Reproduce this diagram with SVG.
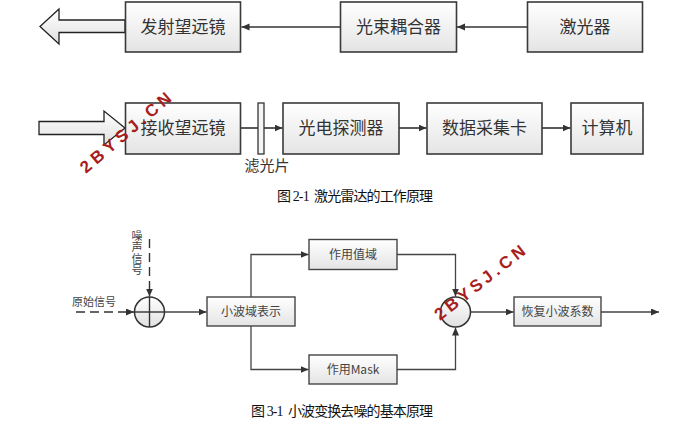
<svg xmlns="http://www.w3.org/2000/svg" width="698" height="433" viewBox="0 0 698 433">
<defs>
<linearGradient id="bg" x1="0" y1="0" x2="0" y2="1">
<stop offset="0" stop-color="#ffffff"/>
<stop offset="1" stop-color="#e4e4e4"/>
</linearGradient>
<linearGradient id="cg" x1="0" y1="0" x2="0" y2="1">
<stop offset="0" stop-color="#ffffff"/>
<stop offset="1" stop-color="#e0e0e0"/>
</linearGradient>
<marker id="ah" markerWidth="9" markerHeight="8" refX="8" refY="3.5" orient="auto" markerUnits="userSpaceOnUse">
<path d="M0,0 L8,3.5 L0,7 z" fill="#333"/>
</marker>
</defs>
<style>
.b1{fill:url(#bg);stroke:#3a3a3a;stroke-width:1.6}
.b2{fill:url(#bg);stroke:#454545;stroke-width:1.4}
.t1{font-family:"Noto Sans CJK SC","Liberation Sans",sans-serif;font-size:17px;fill:#333;text-anchor:middle}
.t2{font-family:"Noto Sans CJK SC","Liberation Serif",serif;font-size:12px;fill:#444;text-anchor:middle}
.t3{font-family:"Noto Sans CJK SC","Liberation Sans",sans-serif;font-size:11px;fill:#444;text-anchor:middle}
.cap{font-family:"Liberation Serif","Noto Sans CJK SC",serif;font-size:14px;fill:#111}
.ln{fill:none;stroke:#333;stroke-width:1.6}
.ln2{fill:none;stroke:#454545;stroke-width:1.3}
.dash{fill:none;stroke:#333;stroke-width:1.4;stroke-dasharray:9,5}
.wm{font-family:"Liberation Sans",Arial,sans-serif;font-weight:bold;font-size:17px;fill:#a81e1e}
</style>

<g id="connectors">
<polygon points="125,20 59,20 59,9 40,26.5 59,44 59,32.5 125,32.5" fill="url(#cg)" stroke="#222" stroke-width="1.3"/>
<line class="ln" x1="340" y1="27" x2="241.5" y2="27" marker-end="url(#ah)"/>
<line class="ln" x1="527" y1="27" x2="457" y2="27" marker-end="url(#ah)"/>
<polygon points="39,121.5 104,121.5 104,111 125,128 104,145 104,134.5 39,134.5" fill="url(#cg)" stroke="#222" stroke-width="1.3"/>
<line class="ln" x1="240.5" y1="128" x2="258" y2="128"/>
<line class="ln" x1="264" y1="128" x2="282.5" y2="128" marker-end="url(#ah)"/>
<line class="ln" x1="399" y1="128" x2="426.5" y2="128" marker-end="url(#ah)"/>
<line class="ln" x1="542" y1="128" x2="570.5" y2="128" marker-end="url(#ah)"/>

<line class="dash" x1="149.5" y1="239" x2="149.5" y2="296.5" marker-end="url(#ah)"/>
<line class="dash" x1="76" y1="312" x2="134" y2="312" marker-end="url(#ah)"/>
<line class="ln2" x1="164.5" y1="312" x2="206.5" y2="312" marker-end="url(#ah)"/>
<path class="ln2" d="M251,297 V254.5 H308.5" marker-end="url(#ah)"/>
<path class="ln2" d="M251,326 V369.5 H308.5" marker-end="url(#ah)"/>
<path class="ln2" d="M397,254.5 H455.5 V296.5" marker-end="url(#ah)"/>
<path class="ln2" d="M397,369.5 H455.5 V327.5" marker-end="url(#ah)"/>
<line class="ln2" x1="470.5" y1="312" x2="513.5" y2="312" marker-end="url(#ah)"/>
<line class="ln2" x1="601" y1="312" x2="659" y2="312" marker-end="url(#ah)"/>
</g>

<g id="n-fashe"><rect class="b1" x="125.5" y="2" width="115" height="50"/><text class="t1" x="183" y="33">发射望远镜</text></g>
<g id="n-guangshu"><rect class="b1" x="340.5" y="2" width="116" height="50"/><text class="t1" x="398.5" y="33">光束耦合器</text></g>
<g id="n-jiguangqi"><rect class="b1" x="527.5" y="2" width="115" height="50"/><text class="t1" x="585" y="33">激光器</text></g>

<g id="n-jieshou"><rect class="b1" x="125.5" y="103" width="115" height="51"/><text class="t1" x="183" y="134">接收望远镜</text></g>
<g id="n-filter"><rect x="258" y="103" width="6" height="51" fill="#f4f4f4" stroke="#333" stroke-width="1.3"/><text class="t1" x="267" y="171" style="font-size:15px">滤光片</text></g>
<g id="n-guangdian"><rect class="b1" x="283" y="103" width="116" height="51"/><text class="t1" x="341" y="134">光电探测器</text></g>
<g id="n-shuju"><rect class="b1" x="427" y="103" width="115" height="51"/><text class="t1" x="484.5" y="134">数据采集卡</text></g>
<g id="n-jisuanji"><rect class="b1" x="571" y="103" width="72" height="51"/><text class="t1" x="607" y="134">计算机</text></g>

<text class="cap" x="277" y="201" textLength="156" xml:space="preserve">图 2-1  激光雷达的工作原理</text>

<g id="n-noise"><text x="137" y="230" style="font-family:'Noto Sans CJK SC','Liberation Sans',sans-serif;font-size:11px;fill:#444;writing-mode:vertical-rl;letter-spacing:0.5px">噪声信号</text></g>
<g id="n-orig"><text class="t3" x="94" y="306">原始信号</text></g>
<g id="n-sum1"><circle cx="149.5" cy="312" r="15" fill="url(#cg)" stroke="#333" stroke-width="1.5"/><line x1="134.5" y1="312" x2="164.5" y2="312" stroke="#333" stroke-width="1.4"/><line x1="149.5" y1="297" x2="149.5" y2="327" stroke="#333" stroke-width="1.4"/></g>
<g id="n-xiaobo"><rect class="b2" x="207" y="297" width="88" height="29"/><text class="t2" x="251" y="316">小波域表示</text></g>
<g id="n-zhiyu"><rect class="b2" x="309" y="239.5" width="88" height="30"/><text class="t2" x="353" y="259">作用值域</text></g>
<g id="n-mask"><rect class="b2" x="309" y="355" width="88" height="29"/><text class="t2" x="353" y="374">作用Mask</text></g>
<g id="n-sum2"><circle cx="455.5" cy="312" r="15" fill="url(#cg)" stroke="#333" stroke-width="1.5"/></g>
<g id="n-huifu"><rect class="b2" x="514" y="297" width="87" height="29"/><text class="t2" x="557.5" y="316">恢复小波系数</text></g>

<text class="cap" x="251" y="416" textLength="182" xml:space="preserve">图 3-1  小波变换去噪的基本原理</text>

<text class="wm" x="0" y="0" transform="translate(86,174) rotate(-40.5)" textLength="114" lengthAdjust="spacing">2BYSJ.CN</text>
<text class="wm" x="0" y="0" transform="translate(440,321) rotate(-38)" textLength="110" lengthAdjust="spacing">2BYSJ.CN</text>
</svg>
